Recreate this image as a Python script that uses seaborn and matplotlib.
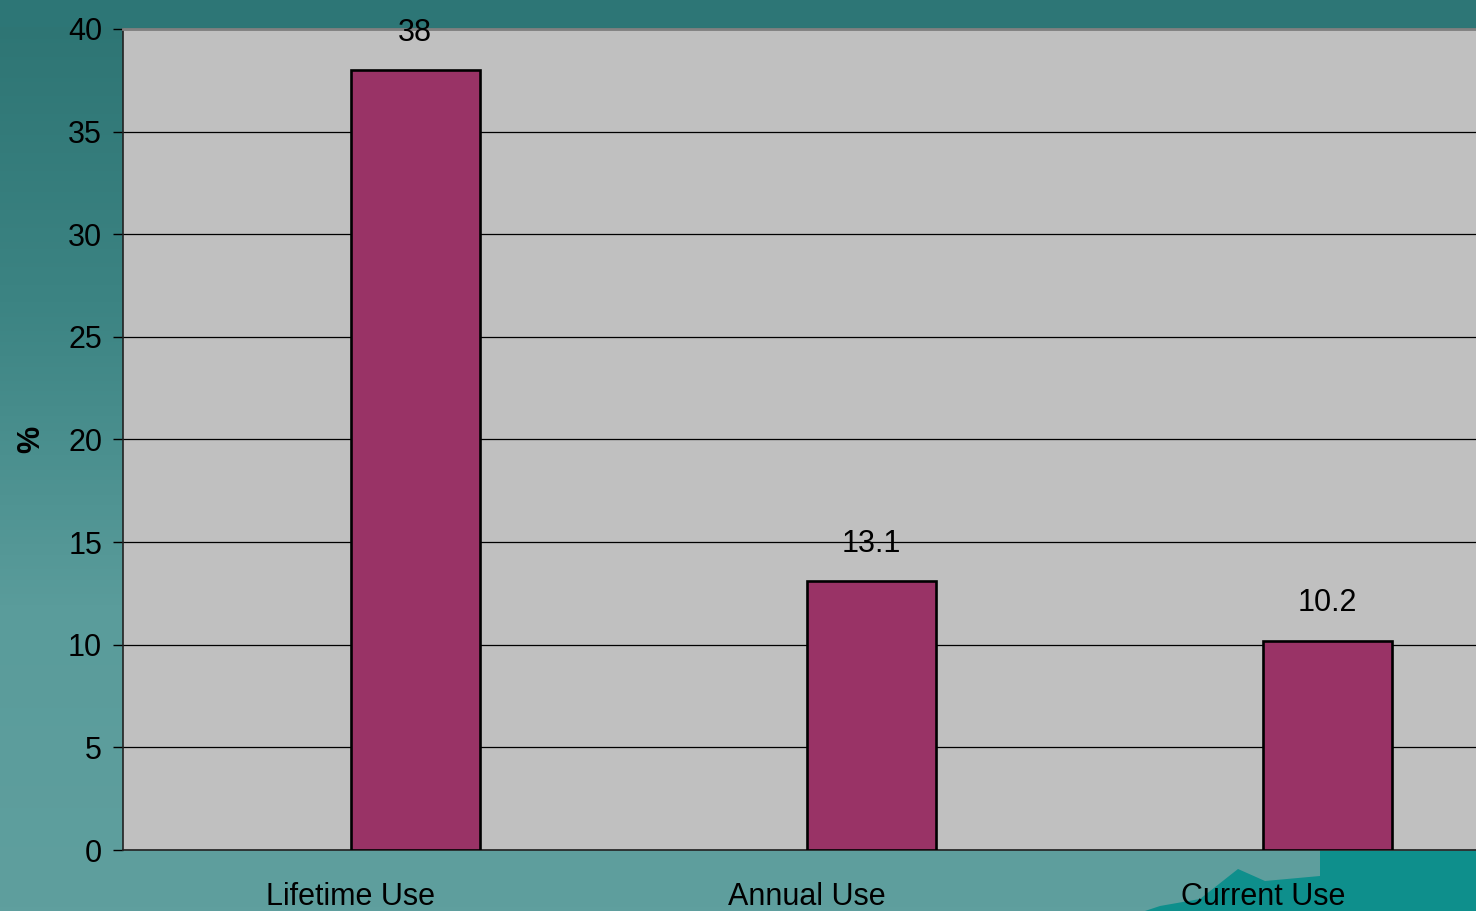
import numpy as np
import pandas as pd
import matplotlib
matplotlib.use("Agg")
import matplotlib.pyplot as plt
from matplotlib.colors import LinearSegmentedColormap
from matplotlib.patches import Polygon
import seaborn as sns

# ---- data ----
categories = ["Lifetime Use", "Annual Use", "Current Use"]
values = [38, 13.1, 10.2]
value_labels = ["38", "13.1", "10.2"]
y_ticks = [0, 5, 10, 15, 20, 25, 30, 35, 40]
y_label = "%"

sns.set_theme(style="white")
plt.rcParams["font.family"] = ["Liberation Sans", "DejaVu Sans"]
plt.rcParams["text.color"] = "black"
plt.rcParams["xtick.color"] = "black"
plt.rcParams["ytick.color"] = "black"
plt.rcParams["axes.labelcolor"] = "black"

W, H = 1476, 911
fig = plt.figure(figsize=(W / 100, H / 100), dpi=100)

# background gradient (teal)
bg = fig.add_axes([0, 0, 1, 1], zorder=-10)
cmap = LinearSegmentedColormap.from_list("teal", ["#2D7473", "#3C8483", "#5A9C9B", "#5F9F9E"])
grad = np.linspace(0, 1, 256).reshape(-1, 1)
bg.imshow(grad, aspect="auto", cmap=cmap, extent=[0, 1, 0, 1], origin="upper")
bg.add_patch(plt.Rectangle((0, 1 - 27 / H), 1, 27 / H, color="#2D7676", lw=0))
# decorative brighter teal shape bottom-right
bg.add_patch(Polygon([(1145 / W, 0), (1160 / W, 5 / H), (1200 / W, 12 / H), (1238 / W, 42 / H),
                      (1265 / W, 30 / H), (1320 / W, 35 / H), (1320 / W, 60 / H), (1, 60 / H),
                      (1, 0)], closed=True, color="#0E8F8C", lw=0))
bg.set_xlim(0, 1)
bg.set_ylim(0, 1)
bg.axis("off")

# main axes
ax = fig.add_axes([123 / W, 61 / H, 1 - 123 / W, 821 / H])
ax.set_facecolor("#C0C0C0")

df = pd.DataFrame({
    "category": categories * 2,
    "value": [np.nan] * len(categories) + values,
    "series": ["pad"] * len(categories) + ["value"] * len(categories),
})

sns.barplot(data=df, x="category", y="value", hue="series", order=categories,
            hue_order=["pad", "value"], palette={"pad": "#993366", "value": "#993366"},
            width=0.564, dodge=True, legend=False, edgecolor="black", linewidth=1.9,
            saturation=1, ax=ax, zorder=3)

ax.bar_label(ax.containers[-1], labels=value_labels, padding=16, fontsize=22, color="black")

ax.set_yticks(y_ticks)
ax.set_yticklabels([str(t) for t in y_ticks], fontsize=22)
ax.yaxis.grid(True, color="black", linewidth=0.9)
ax.set_axisbelow(True)

ax.set_xticks(range(len(categories)))
ax.set_xticklabels(categories, fontsize=22)
ax.set_xticks([-0.5, 0.5, 1.5], minor=True)
ax.tick_params(axis="x", which="major", length=0, pad=23)
ax.tick_params(axis="x", which="minor", length=7, width=1, color="black", direction="out")
ax.tick_params(axis="y", length=7, width=1, color="black", direction="out", pad=8, left=True)

ax.set_ylim(0, 40)
ax.set_xlim(-0.5, -0.5 + (W - 123) / 456)

ax.set_xlabel("")
ax.set_ylabel(y_label, fontsize=22, fontweight="bold", labelpad=16)

for s in ["left", "bottom"]:
    ax.spines[s].set_color("#222222")
    ax.spines[s].set_linewidth(1.2)
ax.spines["top"].set_color("#808080")
ax.spines["top"].set_linewidth(2)
ax.spines["right"].set_visible(False)

fig.savefig("out.png", dpi=100)
